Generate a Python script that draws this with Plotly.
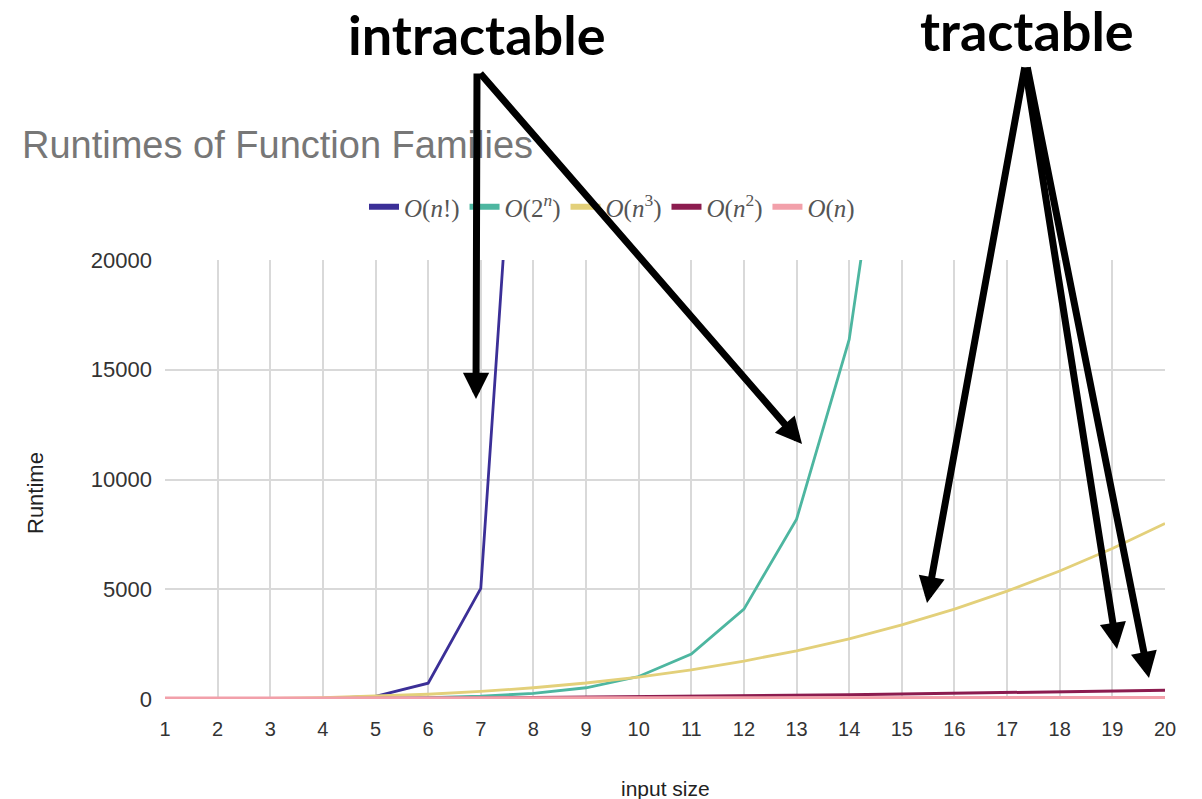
import plotly.graph_objects as go

# ---- data ----
input_size = [1, 2, 3, 4, 5, 6, 7, 8, 9, 10, 11, 12, 13, 14, 15, 16, 17, 18, 19, 20]
o_factorial = [1, 2, 6, 24, 120, 720, 5040, 40320, 362880, 3628800, 39916800,
               479001600, 6227020800, 87178291200, 1307674368000, 20922789888000,
               355687428096000, 6402373705728000, 121645100408832000,
               2432902008176640000]
o_exp2 = [2, 4, 8, 16, 32, 64, 128, 256, 512, 1024, 2048, 4096, 8192, 16384,
          32768, 65536, 131072, 262144, 524288, 1048576]
o_cube = [1, 8, 27, 64, 125, 216, 343, 512, 729, 1000, 1331, 1728, 2197, 2744,
          3375, 4096, 4913, 5832, 6859, 8000]
o_square = [1, 4, 9, 16, 25, 36, 49, 64, 81, 100, 121, 144, 169, 196, 225, 256,
            289, 324, 361, 400]
o_linear = [1, 2, 3, 4, 5, 6, 7, 8, 9, 10, 11, 12, 13, 14, 15, 16, 17, 18, 19, 20]

series_names = ["<i>O</i>(<i>n</i>!)", "<i>O</i>(2<sup><i>n</i></sup>)",
                "<i>O</i>(<i>n</i><sup>3</sup>)", "<i>O</i>(<i>n</i><sup>2</sup>)",
                "<i>O</i>(<i>n</i>)"]
series_values = [o_factorial, o_exp2, o_cube, o_square, o_linear]
series_colors = ["#3b2f97", "#4db6a0", "#e3d07a", "#8c1c4f", "#f2a0aa"]
series_widths = [2.8, 2.8, 2.8, 3, 5]

y_ticks = [0, 5000, 10000, 15000, 20000]
y_tick_labels = ["0", "5000", "10000", "15000", "20000"]

fig = go.Figure()
for i, (name, vals, col, w) in enumerate(zip(series_names, series_values,
                                             series_colors, series_widths)):
    fig.add_trace(go.Scatter(x=input_size, y=vals, mode="lines", name=name,
                             legendgroup=str(i), showlegend=False,
                             line=dict(color=col, width=w)))
# legend entries (thicker swatches, like the reference legend)
for i, (name, col) in enumerate(zip(series_names, series_colors)):
    fig.add_trace(go.Scatter(x=[None], y=[None], mode="lines", name=name,
                             legendgroup=str(i), line=dict(color=col, width=6)))

OFF = 8  # page offset of the figure inside the browser window
W, H = 1202, 799
L, T = 165 - OFF, 260 - OFF
R = W - (1165 - OFF)
B = H - (699 - OFF)
pw, ph = W - L - R, H - T - B


def px(xs):
    return (xs - OFF - L) / pw


def py(ys):
    return (H - B - (ys - OFF)) / ph


fig.update_layout(
    width=W, height=H,
    margin=dict(l=L, r=R, t=T, b=B),
    plot_bgcolor="white", paper_bgcolor="white",
    font=dict(family="Liberation Sans, Arial, sans-serif", color="#444444"),
    title=dict(text="Runtimes of Function Families", x=(22 - OFF) / W, xanchor="left",
               xref="container", y=1 - (145 - OFF) / H, yanchor="middle",
               yref="container",
               font=dict(size=38, color="#777777", family="Liberation Sans, Arial")),
    legend=dict(orientation="h", x=px(612), xanchor="center", y=py(207),
                yanchor="middle", font=dict(size=25, family="Liberation Serif, serif",
                                              color="#555555"),
                itemwidth=30, bgcolor="rgba(0,0,0,0)", tracegroupgap=0),
    showlegend=True,
)

fig.update_xaxes(range=[1, 20], tickmode="linear", tick0=1, dtick=1,
                 showgrid=True, gridcolor="#d9d9d9", gridwidth=1.5,
                 zeroline=False, showline=False, ticks="",
                 tickfont=dict(size=20, color="#333333"), ticklabelstandoff=16)
fig.update_yaxes(range=[0, 20000], tickvals=y_ticks, ticktext=y_tick_labels,
                 showgrid=True, gridcolor="#d9d9d9", gridwidth=1.5,
                 zeroline=False, showline=False, ticks="",
                 tickfont=dict(size=22, color="#333333"), ticklabelstandoff=12)

annotations = [
    dict(text="input size", x=px(665), y=py(788), xref="paper", yref="paper",
         xanchor="center", yanchor="middle",
         showarrow=False, font=dict(size=21, color="#222222")),
    dict(text="Runtime", x=px(35), y=py(493), xref="paper", yref="paper",
         xanchor="center", yanchor="middle",
         showarrow=False, textangle=-90, font=dict(size=22, color="#222222")),
    dict(text="<b>intractable</b>", x=px(477), y=py(34), xref="paper", yref="paper",
         xanchor="center", yanchor="middle",
         showarrow=False, font=dict(size=54, color="black", family="Lato, sans-serif")),
    dict(text="<b>tractable</b>", x=px(1027), y=py(31), xref="paper", yref="paper",
         xanchor="center", yanchor="middle",
         showarrow=False, font=dict(size=54, color="black", family="Lato, sans-serif")),
]

arrows = [
    ((476, 399), (477, 72)),
    ((802, 444), (479, 72)),
    ((927, 603), (1025, 66)),
    ((1117, 649), (1025, 66)),
    ((1149, 678), (1027, 66)),
]
for (tx, ty), (sx, sy) in arrows:
    annotations.append(dict(
        text="", x=px(tx), y=py(ty), xref="paper", yref="paper",
        ax=sx - tx, ay=sy - ty, axref="pixel", ayref="pixel",
        showarrow=True, arrowhead=2, arrowwidth=7, arrowsize=0.75,
        arrowcolor="black", standoff=0))

fig.update_layout(annotations=annotations)

fig.write_html("out.html")
